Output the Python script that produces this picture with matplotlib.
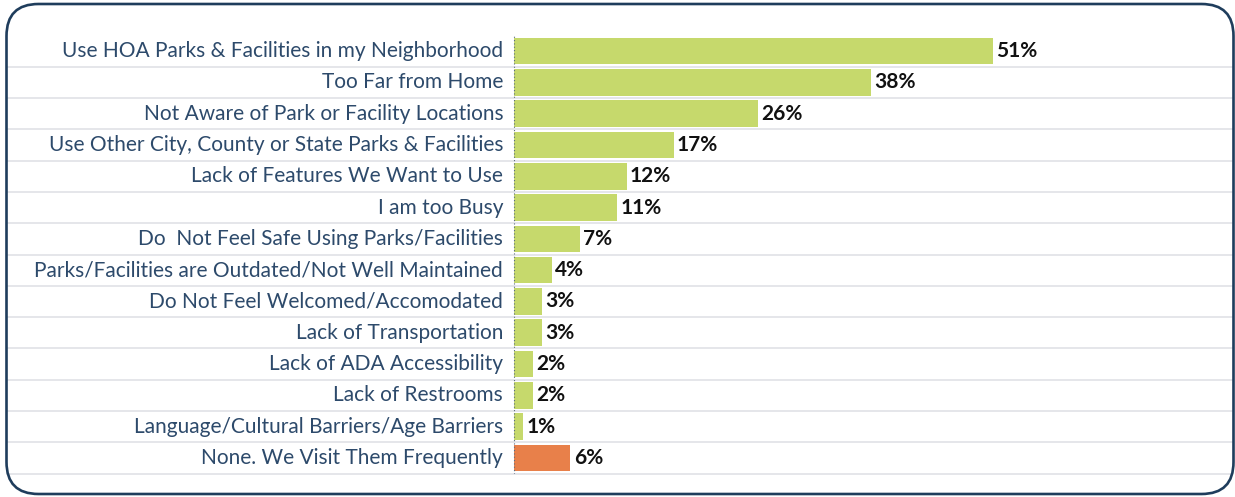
import matplotlib
matplotlib.use("Agg")
import matplotlib.pyplot as plt
from matplotlib.patches import FancyBboxPatch

categories = [
    "Use HOA Parks & Facilities in my Neighborhood",
    "Too Far from Home",
    "Not Aware of Park or Facility Locations",
    "Use Other City, County or State Parks & Facilities",
    "Lack of Features We Want to Use",
    "I am too Busy",
    "Do  Not Feel Safe Using Parks/Facilities",
    "Parks/Facilities are Outdated/Not Well Maintained",
    "Do Not Feel Welcomed/Accomodated",
    "Lack of Transportation",
    "Lack of ADA Accessibility",
    "Lack of Restrooms",
    "Language/Cultural Barriers/Age Barriers",
    "None. We Visit Them Frequently",
]
values = [51, 38, 26, 17, 12, 11, 7, 4, 3, 3, 2, 2, 1, 6]
colors = ["#c6d96c"] * 13 + ["#e8804a"]

plt.rcParams["font.family"] = ["Lato", "DejaVu Sans"]

W, H = 1235, 497
fig = plt.figure(figsize=(W / 100, H / 100), dpi=100)

# axes placed in pixel terms: spans border to border horizontally
x_left, x_right = 7, 1232
y_top, y_bot = 35.5, 473.5
ax = fig.add_axes([x_left / W, 1 - y_bot / H, (x_right - x_left) / W, (y_bot - y_top) / H])

px_per = 9.39
zero_px = 514
ax.set_xlim(-(zero_px - x_left) / px_per, (x_right - zero_px) / px_per)
ax.set_ylim(len(categories) - 0.5, -0.5)

ypos = list(range(len(categories)))
ax.barh(ypos, values, height=0.85, color=colors, zorder=3)

for i in ypos:
    ax.axhline(i + 0.5, color="#e0e1e6", lw=1.2, zorder=1, clip_on=False)
    ax.text(-1.15, i, categories[i], ha="right", va="center",
            fontsize=15, color="#2d4a6b")
    ax.text(values[i] + 0.35, i, f"{values[i]}%", ha="left", va="center",
            fontsize=15, fontweight="bold", color="#111111")

ax.axvline(0, color="#5a6b80", lw=0.8, ls=(0, (1, 2)), zorder=4)
ax.axis("off")

border = FancyBboxPatch((0.065, 0.03), 12.27, 4.9,
                        boxstyle="round,pad=0,rounding_size=0.32",
                        transform=fig.dpi_scale_trans, fill=False,
                        edgecolor="#1f3d5c", lw=1.9)
fig.patches.append(border)

fig.savefig("out.png", dpi=100)
